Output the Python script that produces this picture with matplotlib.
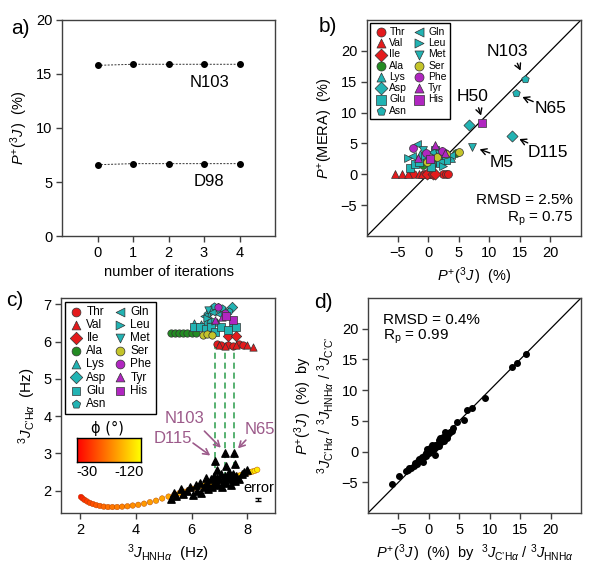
import numpy as np
import matplotlib
matplotlib.use('Agg')
import matplotlib.pyplot as plt

plt.rcParams['font.family'] = ['Liberation Sans', 'DejaVu Sans']
plt.rcParams['mathtext.fontset'] = 'custom'
plt.rcParams['mathtext.rm'] = 'Liberation Sans'
plt.rcParams['mathtext.it'] = 'Liberation Sans:italic'
plt.rcParams['mathtext.bf'] = 'Liberation Sans:bold'

# ---- panel a: convergence over iterations
iterations = [0, 1, 2, 3, 4]
p_n103 = [15.8, 15.9, 15.9, 15.9, 15.9]
p_d98 = [6.6, 6.7, 6.7, 6.7, 6.7]

# ---- residue types (shared legend in b and c)
res_names = ['Thr', 'Val', 'Ile', 'Ala', 'Lys', 'Asp', 'Glu', 'Asn',
             'Gln', 'Leu', 'Met', 'Ser', 'Phe', 'Tyr', 'His']
res_markers = ['o', '^', 'D', 'o', '^', 'D', 's', 'p', '<', '>', 'v', 'o', 'o', '^', 's']
RED, GREEN, TEAL, OLIVE, MAG = '#e41a1c', '#238b23', '#22b3b3', '#c4c42a', '#b026c0'
res_colors = [RED, RED, RED, GREEN, TEAL, TEAL, TEAL, TEAL,
              TEAL, TEAL, TEAL, OLIVE, MAG, MAG, MAG]

# ---- panel b: P+(3J) vs P+(MERA)
mera_x = {
    'Thr': [-2.5, -0.6, 0.0, 0.5, 1.0, 2.5, 3.0, 3.3],
    'Val': [-5.5, -4.3, -3.3, -1.5, -1.0, 0.3],
    'Ile': [-0.2, 0.8, 1.2],
    'Ala': [-0.8, 0.9, 2.7, 4.6, 1.4],
    'Lys': [-1.3, 0.2, 2.3, 3.7, 1.6],
    'Asp': [6.7, 13.7, 2.8, 0.5, 1.9],
    'Glu': [-3.0, -2.2, 1.1, -1.5, 3.0, 0.5, 2.0],
    'Asn': [15.9, 14.4, -0.3, 1.3],
    'Gln': [-1.8, 3.8, 0.6, -2.6],
    'Leu': [-3.3, -0.5, 2.5],
    'Met': [7.1, -0.9, 1.8],
    'Ser': [5.0, -0.2, 1.5, 2.9],
    'Phe': [-2.5, -0.4, 2.2],
    'Tyr': [1.1, -1.6, 2.8],
    'His': [8.8, 0.3],
}
mera_y = {
    'Thr': [0, 0, 0, 0, 0, 0, 0, 0],
    'Val': [0, 0, 0, 0, 0, 0],
    'Ile': [0, 0, 0],
    'Ala': [1.5, 2.2, 3.4, 3.5, 2.6],
    'Lys': [3.3, 2.1, 3.8, 2.7, 2.9],
    'Asp': [8.0, 6.2, 2.5, 1.8, 3.1],
    'Glu': [1.0, 1.6, 4.0, 2.0, 2.3, 1.2, 1.9],
    'Asn': [15.4, 13.1, 2.6, 3.0],
    'Gln': [4.9, 3.1, 3.6, 3.0],
    'Leu': [2.6, 2.9, 1.4],
    'Met': [4.5, 3.9, 3.3],
    'Ser': [3.6, 2.0, 2.8, 3.3],
    'Phe': [4.2, 3.4, 3.7],
    'Tyr': [4.8, 2.6, 3.5],
    'His': [8.3, 2.4],
}

# ---- panel c: 3J(HNHa) vs 3J(C'Ha)
cc_x = {
    'Thr': [6.9, 7.05, 7.3, 7.5, 7.7, 7.85],
    'Val': [7.0, 7.2, 7.6, 8.0, 8.2],
    'Ile': [7.3, 7.6],
    'Ala': [5.25, 5.4, 5.55, 5.7, 5.85, 6.0, 6.15, 6.6],
    'Lys': [6.1, 6.35, 6.5, 6.65, 6.9, 7.4],
    'Asp': [6.7, 6.95, 7.2, 7.45],
    'Glu': [6.1, 6.3, 6.5, 6.7, 6.85, 7.05, 7.3, 7.6],
    'Asn': [6.55, 6.8, 7.1, 7.35],
    'Gln': [6.45, 6.75, 7.0],
    'Leu': [6.55, 6.85],
    'Met': [6.6, 7.2],
    'Ser': [6.4, 6.55, 6.75],
    'Phe': [6.95, 7.2],
    'Tyr': [6.85, 7.1],
    'His': [7.5, 7.25],
}
cc_y = {
    'Thr': [5.93, 5.9, 5.92, 5.89, 5.93, 5.91],
    'Val': [5.9, 5.88, 5.92, 5.9, 5.86],
    'Ile': [6.15, 6.15],
    'Ala': [6.22, 6.22, 6.22, 6.22, 6.22, 6.22, 6.22, 6.25],
    'Lys': [6.5, 6.48, 6.55, 6.6, 6.52, 6.45],
    'Asp': [6.85, 6.9, 6.8, 6.92],
    'Glu': [6.38, 6.38, 6.35, 6.38, 6.25, 6.38, 6.3, 6.38],
    'Asn': [6.75, 6.95, 6.9, 6.82],
    'Gln': [6.7, 6.8, 6.75],
    'Leu': [6.62, 6.55],
    'Met': [6.85, 6.7],
    'Ser': [6.18, 6.2, 6.18],
    'Phe': [6.92, 6.78],
    'Tyr': [6.58, 6.65],
    'His': [6.58, 6.7],
}
# Karplus-type reference curve coloured by phi
curve_jhn = [2.02, 2.08, 2.15, 2.24, 2.34, 2.45, 2.57, 2.70, 2.84, 2.99, 3.15, 3.32,
             3.50, 3.69, 3.88, 4.08, 4.29, 4.50, 4.72, 4.94, 5.17, 5.38, 5.55, 5.72,
             5.88, 6.04, 6.19, 6.34, 6.49, 6.63, 6.77, 6.91, 7.04, 7.17, 7.30, 7.42,
             7.54, 7.66, 7.77, 7.88, 7.98, 8.08, 8.18, 8.27, 8.36]
curve_jch = [1.83, 1.79, 1.75, 1.71, 1.67, 1.64, 1.61, 1.59, 1.57, 1.56, 1.56, 1.56,
             1.57, 1.58, 1.60, 1.62, 1.65, 1.69, 1.73, 1.79, 1.84, 1.89, 1.93, 1.97,
             2.01, 2.05, 2.08, 2.12, 2.15, 2.18, 2.21, 2.24, 2.27, 2.30, 2.32, 2.35,
             2.38, 2.40, 2.42, 2.45, 2.47, 2.49, 2.51, 2.53, 2.56]
curve_phi = [-38, -43, -47, -51, -55, -58, -61, -64, -67, -70, -72, -74,
             -76, -78, -80, -82, -84, -85, -87, -88, -89, -90, -91, -92,
             -93, -94, -95, -96, -97, -98, -99, -100, -101, -102, -103, -104,
             -105, -106, -107, -108, -109, -110, -111, -112, -113]
# measured couplings (black triangles)
meas_jhn = [5.25, 5.35, 5.45, 5.6, 5.7, 5.85, 5.95, 6.05, 6.15, 6.2, 6.3, 6.35, 6.45,
            6.5, 6.55, 6.6, 6.7, 6.75, 6.8, 6.85, 6.9, 6.95, 7.0, 7.05, 7.1, 7.15, 7.2,
            7.25, 7.3, 7.35, 7.4, 7.45, 7.5, 7.55, 7.6, 7.7, 7.8, 7.9, 8.0, 6.85, 7.2,
            7.53, 6.9, 7.22, 7.55]
meas_jch = [1.78, 1.95, 1.85, 2.05, 1.9, 1.98, 2.1, 1.88, 2.15, 2.0, 2.2, 1.95, 2.1,
            2.35, 2.2, 2.05, 2.3, 2.1, 2.4, 2.2, 2.35, 2.15, 2.3, 2.45, 2.1, 2.25, 2.4,
            2.2, 2.35, 2.5, 2.15, 2.3, 2.45, 2.25, 2.4, 2.3, 2.45, 2.5, 2.55, 2.8, 3.0,
            3.0, 2.55, 2.65, 2.72]
link_x = [6.85, 7.2, 7.53]

# ---- panel d: two-coupling vs three-coupling P+
pd_x = [-6.0, -4.9, -3.8, -3.5, -3.2, -2.9, -2.5, -2.3, -2.0, -1.8, -1.6, -1.3, -1.1,
        -0.9, -0.7, -0.5, -0.4, -0.2, 0.0, 0.1, 0.2, 0.4, 0.6, 0.8, 1.0, 1.0, 1.2, 1.5,
        1.7, 1.9, 2.0, 2.2, 2.4, 2.6, 2.7, 2.9, 3.1, 3.3, 3.5, 3.8, 4.0, 4.6, 5.7, 6.2,
        7.1, 9.3, 13.7, 14.5, 15.9, -1.0, 0.5, 2.5, 1.6, -0.3, 3.0]
pd_y = [-5.3, -4.0, -3.2, -3.0, -2.7, -2.6, -2.3, -1.8, -2.0, -1.6, -1.2, -1.4, -0.9,
        -1.0, -0.5, -0.7, -0.2, 0.0, 0.3, -0.3, 0.6, 0.2, 0.8, 0.5, 1.0, -0.5, 0.7, 1.3,
        0.9, 2.2, 1.6, 2.0, 2.3, 2.6, 3.2, 2.5, 2.8, 3.1, 3.2, 3.4, 3.9, 4.8, 5.1, 6.7,
        7.1, 8.8, 13.7, 14.4, 15.9, -1.7, 1.0, 1.8, 1.9, 0.4, 2.2]

PJ = r'$P^{+}(^{3}J\,)$'
J_CH = r'$^{3}J_{\mathrm{C’H}\alpha}$'
J_HN = r'$^{3}J_{\mathrm{HNH}\alpha}$'
J_CC = r'$^{3}J_{\mathrm{C’C’}}$'
ANN = '#9c5a8a'


def style(ax):
    for s in ax.spines.values():
        s.set_color('#404040')
        s.set_linewidth(1.0)
    ax.tick_params(direction='out', length=4, width=1, color='#404040',
                   labelsize=10.5, pad=3)


fig = plt.figure(figsize=(6, 5.7), dpi=100)
ax_a = fig.add_axes([62/600, 1-236/570, 213/600, 216/570])
ax_b = fig.add_axes([367/600, 1-236/570, 214/600, 216/570])
ax_c = fig.add_axes([61/600, 1-513/570, 214/600, 215/570])
ax_d = fig.add_axes([368/600, 1-513/570, 213/600, 215/570])
for ax in (ax_a, ax_b, ax_c, ax_d):
    style(ax)

# a)
for ys in (p_n103, p_d98):
    ax_a.plot(iterations, ys, ls='--', lw=0.7, color='#333333', marker='o',
              ms=4, mfc='black', mec='black', dashes=(2, 1.5))
ax_a.text(3.15, 14.2, 'N103', fontsize=12, ha='center', va='center')
ax_a.text(3.15, 5.0, 'D98', fontsize=12, ha='center', va='center')
ax_a.set_xlim(-1, 5)
ax_a.set_ylim(0, 20)
ax_a.set_xticks([0, 1, 2, 3, 4])
ax_a.set_yticks([0, 5, 10, 15, 20])
ax_a.set_xlabel('number of iterations', fontsize=10.5)
ax_a.set_ylabel(PJ + '  (%)', fontsize=10.5)

# b)
ax_b.plot([-10, 25], [-10, 25], color='black', lw=0.9, zorder=1)
for name, mk, col in zip(res_names, res_markers, res_colors):
    ax_b.scatter(mera_x[name], mera_y[name], marker=mk, s=32, c=col,
                 edgecolors='#333333', linewidths=0.5, label=name, zorder=3)
ax_b.legend(loc='upper left', ncol=2, fontsize=7.5, handletextpad=0.2,
            columnspacing=0.5, labelspacing=0.12, borderpad=0.35,
            handlelength=1.3, borderaxespad=0.3, fancybox=False,
            edgecolor='black', framealpha=1, markerscale=1.15)
b_labels = ['N103', 'N65', 'H50', 'D115', 'M5']
b_text_pos = [(12.9, 19.9), (20.0, 10.6), (7.3, 12.6), (19.6, 3.6), (12.0, 1.9)]
b_tail = [(14.4, 18.4), (17.6, 11.6), (8.1, 11.2), (16.7, 4.9), (10.5, 3.3)]
b_head = [(15.3, 16.4), (15.0, 12.7), (8.8, 9.1), (14.5, 5.9), (8.0, 4.2)]
for lab, tp, tl, hd in zip(b_labels, b_text_pos, b_tail, b_head):
    ax_b.text(tp[0], tp[1], lab, fontsize=12.5, ha='center', va='center')
    ax_b.annotate('', xy=hd, xytext=tl,
                  arrowprops=dict(arrowstyle='->,head_length=0.4,head_width=0.22',
                                  color='black', lw=1))
ax_b.text(23.7, -4.2, 'RMSD = 2.5%', fontsize=11, ha='right', va='center')
ax_b.text(23.7, -7.3, r'R$_{\rm p}$ = 0.75', fontsize=11, ha='right', va='center')
ax_b.set_xlim(-10, 25)
ax_b.set_ylim(-10, 25)
ax_b.set_xticks([-5, 0, 5, 10, 15, 20])
ax_b.set_yticks([-5, 0, 5, 10, 15, 20])
ax_b.set_xlabel(PJ + '  (%)', fontsize=10.5)
ax_b.set_ylabel(r'$P^{+}$(MERA)  (%)', fontsize=10.5)

# c)
for lx in link_x:
    ax_c.plot([lx, lx], [2.35, 5.9], ls='--', color='#2a9d4a', lw=1.1,
              dashes=(4, 2.5), zorder=1)
ax_c.scatter(curve_jhn, curve_jch, c=curve_phi, cmap='autumn_r', vmin=-120,
             vmax=-30, s=16, edgecolors='#b04000', linewidths=0.3, zorder=2)
ax_c.scatter(meas_jhn, meas_jch, marker='^', s=28, c='black', zorder=3)
for name, mk, col in zip(res_names, res_markers, res_colors):
    ax_c.scatter(cc_x[name], cc_y[name], marker=mk, s=28, c=col,
                 edgecolors='#333333', linewidths=0.5, label=name, zorder=3)
ax_c.legend(loc='upper left', ncol=2, fontsize=8.5, handletextpad=0.2,
            columnspacing=0.5, labelspacing=0.1, borderpad=0.35,
            handlelength=1.3, borderaxespad=0.3, fancybox=False,
            edgecolor='black', framealpha=1, markerscale=1.2)
c_labels = ['N103', 'D115', 'N65']
c_text_pos = [(5.73, 3.94), (5.31, 3.41), (8.44, 3.63)]
c_tail = [(6.39, 3.65), (5.97, 3.32), (8.02, 3.41)]
c_head = [(7.12, 3.1), (6.75, 2.9), (7.6, 3.08)]
for lab, tp, tl, hd in zip(c_labels, c_text_pos, c_tail, c_head):
    ax_c.text(tp[0], tp[1], lab, fontsize=12, ha='center', va='center', color=ANN)
    ax_c.annotate('', xy=hd, xytext=tl,
                  arrowprops=dict(arrowstyle='->,head_length=0.4,head_width=0.22',
                                  color=ANN, lw=1.2))
ax_c.text(8.4, 2.06, 'error', fontsize=10.5, ha='center', va='center')
ax_c.errorbar([8.39], [1.75], yerr=[0.04], fmt='none', ecolor='black',
              elinewidth=1, capsize=2)
ax_c.set_xlim(1.3, 9.0)
ax_c.set_ylim(1.4, 7.17)
ax_c.set_xticks([2, 4, 6, 8])
ax_c.set_yticks([2, 3, 4, 5, 6, 7])
ax_c.set_xlabel(J_HN + '  (Hz)', fontsize=11)
ax_c.set_ylabel(J_CH + '  (Hz)', fontsize=11)

cax = fig.add_axes([77/600, 1-462/570, 64/600, 24/570])
cax.imshow(np.linspace(0, 1, 256)[None, :], cmap='autumn', aspect='auto')
cax.set_xticks([])
cax.set_yticks([])
for s in cax.spines.values():
    s.set_linewidth(1)
cax.text(0.15, -0.4, '-30', transform=cax.transAxes, ha='center', va='center', fontsize=10.5)
cax.text(0.82, -0.4, '-120', transform=cax.transAxes, ha='center', va='center', fontsize=10.5)
cax.text(0.48, 1.4, 'ϕ (°)', transform=cax.transAxes, ha='center', va='center', fontsize=10.5,
         family=['DejaVu Sans'])

# d)
ax_d.plot([-10, 25], [-10, 25], color='black', lw=0.9, zorder=1)
ax_d.scatter(pd_x, pd_y, s=16, c='black', zorder=3)
ax_d.text(-7.5, 21.5, 'RMSD = 0.4%', fontsize=11, ha='left', va='center')
ax_d.text(-7.5, 18.6, r'R$_{\rm p}$ = 0.99', fontsize=11, ha='left', va='center')
ax_d.set_xlim(-10, 25)
ax_d.set_ylim(-10, 25)
ax_d.set_xticks([-5, 0, 5, 10, 15, 20])
ax_d.set_yticks([-5, 0, 5, 10, 15, 20])
ax_d.set_xlabel(PJ + '  (%)  by  ' + J_CH + ' / ' + J_HN, fontsize=10.5)
ax_d.set_ylabel(PJ + '  (%)  by\n' + J_CH + ' / ' + J_HN + ' / ' + J_CC,
                fontsize=10.5, linespacing=1.1)

for lab, px, py in [('a)', 20, 28), ('b)', 328, 27), ('c)', 15, 300), ('d)', 323, 303)]:
    fig.text(px/600, 1-py/570, lab, fontsize=15, ha='center', va='center')

fig.savefig('out.png', dpi=100)
